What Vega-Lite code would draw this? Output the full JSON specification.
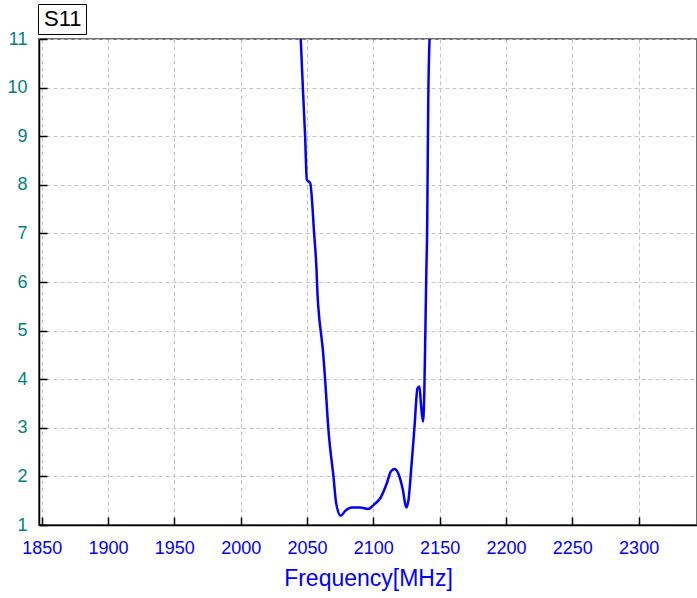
{
  "$schema": "https://vega.github.io/schema/vega-lite/v6.json",
  "width": 658,
  "height": 486,
  "autosize": {"type": "none"},
  "padding": {"left": 39, "top": 39, "right": 0, "bottom": 73},
  "background": "white",
  "config": {
    "font": "Liberation Sans",
    "view": {"stroke": "#707070", "strokeWidth": 2},
    "axis": {
      "gridDash": [4, 3],
      "gridColor": "#c4c4c4",
      "gridWidth": 1,
      "domainColor": "#000000",
      "domainWidth": 1.5,
      "tickColor": "#000000",
      "tickWidth": 1.5,
      "labelFontSize": 18,
      "labelFont": "Liberation Sans"
    }
  },
  "data": {
    "values": [
      {"f": 2045.3, "v": 11, "series": "S11"},
      {"f": 2046.9, "v": 10, "series": "S11"},
      {"f": 2048.6, "v": 9, "series": "S11"},
      {"f": 2049.9, "v": 8.1, "series": "S11"},
      {"f": 2052.4, "v": 8.04, "series": "S11"},
      {"f": 2055.4, "v": 7.0, "series": "S11"},
      {"f": 2057.2, "v": 6.25, "series": "S11"},
      {"f": 2057.9, "v": 5.77, "series": "S11"},
      {"f": 2059.4, "v": 5.22, "series": "S11"},
      {"f": 2060.4, "v": 4.98, "series": "S11"},
      {"f": 2062.0, "v": 4.6, "series": "S11"},
      {"f": 2063.7, "v": 3.98, "series": "S11"},
      {"f": 2066.2, "v": 2.95, "series": "S11"},
      {"f": 2070.0, "v": 1.99, "series": "S11"},
      {"f": 2072.0, "v": 1.45, "series": "S11"},
      {"f": 2075.5, "v": 1.19, "series": "S11"},
      {"f": 2078.8, "v": 1.29, "series": "S11"},
      {"f": 2083.8, "v": 1.36, "series": "S11"},
      {"f": 2090.0, "v": 1.36, "series": "S11"},
      {"f": 2096.3, "v": 1.33, "series": "S11"},
      {"f": 2100.5, "v": 1.42, "series": "S11"},
      {"f": 2105.2, "v": 1.55, "series": "S11"},
      {"f": 2110.2, "v": 1.86, "series": "S11"},
      {"f": 2113.2, "v": 2.1, "series": "S11"},
      {"f": 2116.0, "v": 2.15, "series": "S11"},
      {"f": 2119.0, "v": 2.05, "series": "S11"},
      {"f": 2122.3, "v": 1.72, "series": "S11"},
      {"f": 2124.8, "v": 1.36, "series": "S11"},
      {"f": 2126.5, "v": 1.51, "series": "S11"},
      {"f": 2128.5, "v": 2.13, "series": "S11"},
      {"f": 2131.0, "v": 3.0, "series": "S11"},
      {"f": 2133.3, "v": 3.81, "series": "S11"},
      {"f": 2134.8, "v": 3.85, "series": "S11"},
      {"f": 2135.9, "v": 3.5, "series": "S11"},
      {"f": 2137.4, "v": 3.13, "series": "S11"},
      {"f": 2138.4, "v": 3.67, "series": "S11"},
      {"f": 2139.3, "v": 5.08, "series": "S11"},
      {"f": 2140.0, "v": 6.25, "series": "S11"},
      {"f": 2140.6, "v": 7.07, "series": "S11"},
      {"f": 2141.4, "v": 9.68, "series": "S11"},
      {"f": 2142.4, "v": 11, "series": "S11"}
    ]
  },
  "mark": {"type": "line", "strokeWidth": 2.5, "clip": true, "interpolate": "monotone"},
  "encoding": {
    "x": {
      "field": "f",
      "type": "quantitative",
      "scale": {"domain": [1848, 2344], "nice": false, "zero": false},
      "axis": {
        "values": [1850, 1900, 1950, 2000, 2050, 2100, 2150, 2200, 2250, 2300],
        "title": "Frequency[MHz]",
        "titleColor": "#0000ff",
        "titleFontSize": 23,
        "titleFontWeight": "normal",
        "titleFont": "Liberation Sans",
        "titlePadding": 10,
        "labelColor": "#0000ff",
        "labelPadding": 22,
        "tickSize": -8,
        "format": "d",
        "labelFlush": false,
        "labelOverlap": false
      }
    },
    "y": {
      "field": "v",
      "type": "quantitative",
      "scale": {"domain": [1, 11], "nice": false, "zero": false},
      "axis": {
        "values": [1, 2, 3, 4, 5, 6, 7, 8, 9, 10, 11],
        "title": null,
        "labelColor": "#008080",
        "labelPadding": 20,
        "tickSize": -8,
        "labelFlush": false,
        "labelOverlap": false
      }
    },
    "order": {"field": "f", "type": "quantitative"},
    "color": {
      "field": "series",
      "type": "nominal",
      "scale": {"range": ["#0000ff"]},
      "legend": {
        "title": null,
        "orient": "none",
        "legendX": -1,
        "legendY": -35,
        "padding": 4,
        "strokeColor": "#000000",
        "fillColor": "#ffffff",
        "symbolSize": 0,
        "symbolStrokeWidth": 0,
        "symbolOpacity": 0,
        "labelOffset": -20,
        "labelFontSize": 22,
        "labelColor": "#000000",
        "labelFont": "Liberation Sans"
      }
    }
  }
}
